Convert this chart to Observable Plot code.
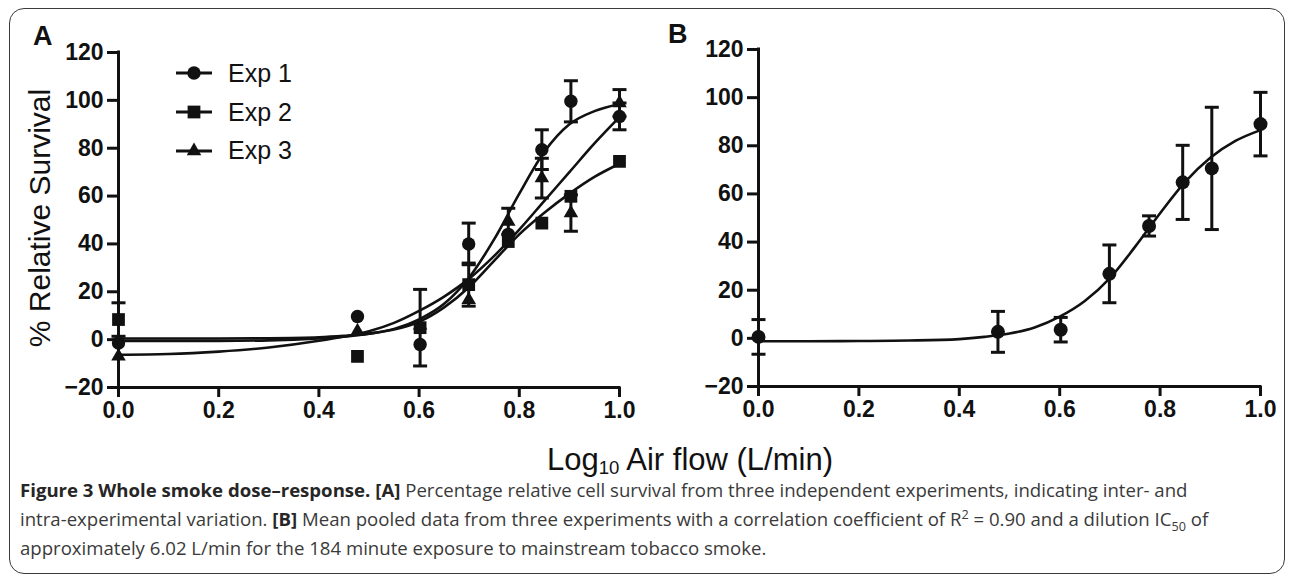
<!DOCTYPE html>
<html>
<head>
<meta charset="utf-8">
<script src="https://cdn.jsdelivr.net/npm/d3@7"></script>
<script src="https://cdn.jsdelivr.net/npm/@observablehq/plot@0.6"></script>
<style>
  body { margin: 0; background: #fff; }
  #fig { position: relative; width: 1292px; height: 579px; overflow: hidden; background: #fff;
         font-family: "Liberation Sans", Arial, sans-serif; color: #111; }
  #frame { position: absolute; left: 9px; top: 8px; width: 1276px; height: 566px;
           border: 1.6px solid #3a3a3a; border-radius: 15px; box-sizing: border-box; }
  .panel { position: absolute; top: 0; }
  .plabel { position: absolute; font-weight: bold; font-size: 27px; line-height: 1; }
  #ylab { position: absolute; width: 420px; left: -170px; top: 200px; height: 36px; line-height: 36px;
          text-align: center; font-size: 30px; transform: rotate(-90deg); transform-origin: 50% 50%; }
  #xlab { position: absolute; left: 390px; width: 600px; top: 445px; text-align: center; font-size: 31px; line-height: 30px; }
  #xlab sub { font-size: 0.6em; vertical-align: -0.22em; line-height: 0; }
  #legend { position: absolute; left: 170px; top: 54px; }
  .lrow { display: flex; align-items: center; height: 38.7px; }
  .lrow span { font-size: 25px; margin-left: 14px; }
  .capline { position: absolute; left: 20px; font-family: "Open Sans", sans-serif; font-size: 18.6px;
             line-height: 22px; height: 22px; color: #3a3a3a; white-space: nowrap; }
  .capline b { color: #262626; }
  .capline sub, .capline sup { font-size: 0.68em; line-height: 0; }
</style>
</head>
<body>
<div id="fig">
  <div id="frame"></div>
  <div id="panelA" class="panel" style="left:0px"></div>
  <div id="panelB" class="panel" style="left:640px"></div>
  <div class="plabel" style="left:33px;top:23px">A</div>
  <div class="plabel" style="left:668px;top:21px">B</div>
  <div id="ylab">% Relative Survival</div>
  <div id="legend"></div>
  <div id="xlab">Log<sub>10</sub> Air flow (L/min)</div>
  <div class="capline" style="top:479px"><b>Figure 3 Whole smoke dose–response.</b> <b>[A]</b> Percentage relative cell survival from three independent experiments, indicating inter- and</div>
  <div class="capline" style="top:508px">intra-experimental variation. <b>[B]</b> Mean pooled data from three experiments with a correlation coefficient of R<sup>2</sup> = 0.90 and a dilution IC<sub>50</sub> of</div>
  <div class="capline" style="top:537px">approximately 6.02 L/min for the 184 minute exposure to mainstream tobacco smoke.</div>
</div>
<script>
// ---- data ----
const doseX = [0, 0.477, 0.602, 0.699, 0.778, 0.845, 0.903, 1.0];

const exp1Y   = [-1.4, 9.7, -2.0, 40.0, 44.0, 79.4, 99.6, 93.3];
const exp1Err = [0, 0, 0, 8.7, 0, 8.3, 8.6, 5.6];
const exp2Y   = [8.4, -7.0, 5.0, 23.0, 41.0, 48.7, 59.9, 74.5];
const exp2Err = [7.0, 0, 16.0, 9.0, 0, 0, 0, 0];
const exp3Y   = [-7.0, 3.5, 6.0, 16.6, 49.4, 67.5, 52.9, 98.9];
const exp3Err = [0, 0, 0, 0, 5.5, 8.3, 7.6, 5.6];

const pooledY   = [0.6, 2.7, 3.6, 26.8, 46.7, 64.8, 70.6, 89.0];
const pooledErr = [7.2, 8.5, 5.1, 12.0, 4.2, 15.4, 25.4, 13.2];

// fitted curves
const fitX   = [0, 0.1, 0.2, 0.3, 0.4, 0.45, 0.5, 0.55, 0.6, 0.65, 0.7, 0.75, 0.8, 0.85, 0.9, 0.95, 1.0];
const fit1   = [0.5, 0.5, 0.5, 0.6, 1.0, 1.6, 2.5, 4.5, 8.5, 15, 26, 42, 61, 78.5, 90, 95.5, 98.5];
const fit2   = [-0.5, -0.5, -0.5, -0.3, 0.5, 1.2, 2.5, 4.2, 7.5, 13.5, 22, 33, 44, 53, 61, 68, 73.5];
const fit3   = [-6.3, -6.0, -5.0, -3.3, -0.5, 1.3, 3.5, 7.0, 12, 18, 25.5, 35, 46, 58, 70, 82, 93];
const fitB   = [-1.2, -1.2, -1.1, -0.9, -0.3, 0.6, 2.0, 4.5, 9.0, 15.5, 25, 38, 52, 65, 75, 82, 86.5];

const xTicks = [0, 0.2, 0.4, 0.6, 0.8, 1.0];
const yTicks = [-20, 0, 20, 40, 60, 80, 100, 120];
const xDomain = [0, 1];
const yDomain = [-20, 120];
const seriesNames = ["Exp 1", "Exp 2", "Exp 3"];

// ---- helpers ----
const ink = "#111";
const capSymbol = { draw(ctx) { ctx.moveTo(-7, 0); ctx.lineTo(7, 0); } };
const pts = (ys, es) => doseX.map((x, i) => ({ x, y: ys[i], e: es[i] }));
const curve = (ys) => fitX.map((x, i) => ({ x, y: ys[i] }));

function seriesMarks(data, symbol, r) {
  const withErr = data.filter(d => d.e > 0);
  return [
    Plot.ruleX(withErr, { x: "x", y1: d => d.y - d.e, y2: d => d.y + d.e, stroke: ink, strokeWidth: 3 }),
    Plot.dot(withErr, { x: "x", y: d => d.y + d.e, symbol: capSymbol, stroke: ink, strokeWidth: 3, fill: "none" }),
    Plot.dot(withErr, { x: "x", y: d => d.y - d.e, symbol: capSymbol, stroke: ink, strokeWidth: 3, fill: "none" }),
    Plot.dot(data, { x: "x", y: "y", symbol, r, fill: ink, stroke: "none" })
  ];
}

function panel({ width, height, mt, mb, ml, mr, marks }) {
  return Plot.plot({
    width, height,
    marginTop: mt, marginBottom: mb, marginLeft: ml, marginRight: mr,
    x: { domain: xDomain, label: null },
    y: { domain: yDomain, label: null },
    style: { fontFamily: "'Liberation Sans', Arial, sans-serif", fontSize: "23px", fontWeight: "bold",
             color: ink, background: "transparent", overflow: "visible" },
    marks: [
      Plot.axisX({ ticks: xTicks, tickSize: 10, tickPadding: 4, strokeWidth: 3, tickFormat: d3.format(".1f"), label: null }),
      Plot.axisY({ ticks: yTicks, tickSize: 11, tickPadding: 4, strokeWidth: 3, label: null }),
      Plot.ruleX([xDomain[0]], { y1: yDomain[0], y2: yDomain[1], stroke: ink, strokeWidth: 3, strokeLinecap: "square" }),
      Plot.ruleY([yDomain[0]], { x1: xDomain[0], x2: xDomain[1], stroke: ink, strokeWidth: 3, strokeLinecap: "square" }),
      ...marks
    ]
  });
}

// ---- panel A ----
const plotA = panel({
  width: 650, height: 430, mt: 52, mb: 43, ml: 118, mr: 31,
  marks: [
    Plot.line(curve(fit1), { x: "x", y: "y", curve: "monotone-x", stroke: ink, strokeWidth: 2.6 }),
    Plot.line(curve(fit2), { x: "x", y: "y", curve: "monotone-x", stroke: ink, strokeWidth: 2.6 }),
    Plot.line(curve(fit3), { x: "x", y: "y", curve: "monotone-x", stroke: ink, strokeWidth: 2.6 }),
    ...seriesMarks(pts(exp2Y, exp2Err), "square", 7.2),
    ...seriesMarks(pts(exp3Y, exp3Err), "triangle", 5.4),
    ...seriesMarks(pts(exp1Y, exp1Err), "circle", 6.7)
  ]
});
document.getElementById("panelA").appendChild(plotA);

// ---- panel B ----
const plotB = panel({
  width: 652, height: 430, mt: 49, mb: 44, ml: 118, mr: 32,
  marks: [
    Plot.line(curve(fitB), { x: "x", y: "y", curve: "monotone-x", stroke: ink, strokeWidth: 2.6 }),
    ...seriesMarks(pts(pooledY, pooledErr), "circle", 7)
  ]
});
document.getElementById("panelB").appendChild(plotB);

// ---- legend ----
const legendSymbols = [
  d3.symbol(d3.symbolCircle, Math.PI * 6.7 * 6.7)(),
  d3.symbol(d3.symbolSquare, Math.PI * 7.2 * 7.2)(),
  d3.symbol(d3.symbolTriangle, Math.PI * 5.4 * 5.4)()
];
const legend = d3.select("#legend");
seriesNames.forEach((name, i) => {
  const row = legend.append("div").attr("class", "lrow");
  const svg = row.append("svg").attr("width", 44).attr("height", 24);
  svg.append("line").attr("x1", 6).attr("x2", 42).attr("y1", 12).attr("y2", 12)
     .attr("stroke", ink).attr("stroke-width", 3);
  svg.append("path").attr("d", legendSymbols[i]).attr("transform", "translate(24,12)").attr("fill", ink);
  row.append("span").text(name);
});
</script>
</body>
</html>
